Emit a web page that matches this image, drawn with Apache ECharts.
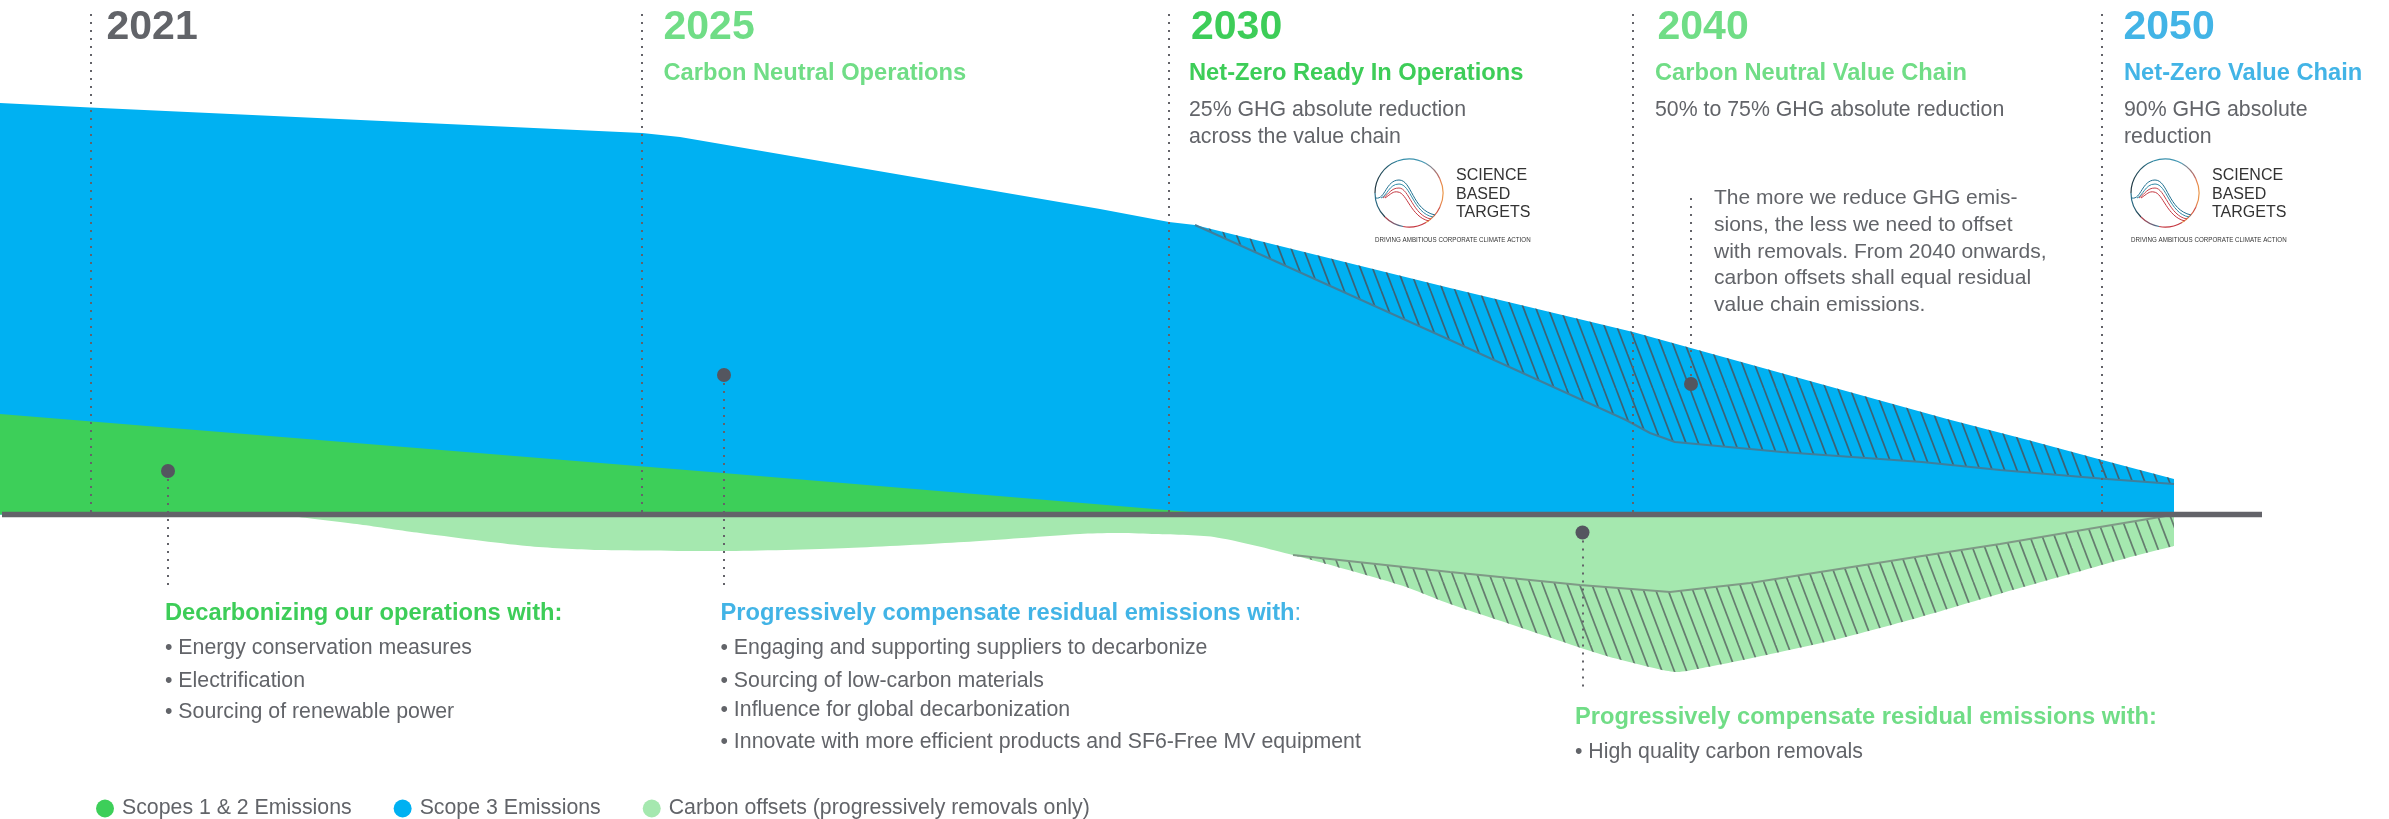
<!DOCTYPE html>
<html><head><meta charset="utf-8">
<style>html,body{margin:0;padding:0;background:#fff}#c{width:2389px;height:819px}</style>
<script src="https://cdn.jsdelivr.net/npm/echarts@6/dist/echarts.min.js"></script>
</head><body><div id="c"></div>
<script>
// Series: [timeline position, level above (+) or below (-) the zero line]
const scope12 = [[0,100.5],[723,41.5],[1220,0]];
const scope3Top = [[0,411.5],[90,407],[642,381.5],[680,377.5],[1100,305.5],[1169,292.5],[1195,289.5],[1450,226.5],[1633,182.5],[1947,95.5],[2028,74.5],[2102,54.5],[2174,35.5]];
const scope3Hatched = [[1195,289.5],[1450,226.5],[1633,182.5],[1947,95.5],[2028,74.5],[2102,54.5],[2174,35.5]];
const scope3Low = [[1195,289.5],[1450,174.5],[1626,94.5],[1650,81.5],[1675,72.5],[1782,62.5],[1922,52.5],[2000,44.5],[2100,36],[2174,30.5]];
const offsetOuter = [[285,0],[299,-2.5],[360,-10],[420,-18.5],[527,-31.5],[598,-35.5],[723,-36.5],[848,-33.5],[964,-27.5],[1080,-19.5],[1115,-18.5],[1152,-19.5],[1214,-22.5],[1293,-40.5],[1400,-70.5],[1450,-89.5],[1513,-110.5],[1603,-140.5],[1660,-155],[1677,-157.5],[1700,-154],[1757,-142.5],[1840,-124],[1922,-102],[2004,-78],[2086,-55],[2127,-43.5],[2174,-31.5]];
const offsetHatched = [[1293,-40.5],[1400,-70.5],[1450,-89.5],[1513,-110.5],[1603,-140.5],[1660,-155],[1677,-157.5],[1700,-154],[1757,-142.5],[1840,-124],[1922,-102],[2004,-78],[2086,-55],[2127,-43.5],[2174,-31.5]];
const offsetInner = [[1293,-40.5],[1450,-57.5],[1580,-70.5],[1670,-77.5],[1750,-68.5],[1922,-41.5],[2000,-29.5],[2100,-12.5],[2160,-2.5],[2174,0]];
const zeroLine = [[2,0],[2262,0]];
const yearMarks = [90.5,642,1169,1633,2102];
const yearMarkTop = 500.5, yearMarkBottom = 2;
const calloutDots = [[168,43.5],[724,139.5],[1582.5,-18],[1691,130.5]];
const calloutEnds = [[168,-73.5],[724,-70.5],[1582.5,-174.5],[1691,322.5]];

const legendNames = ['Scopes 1 & 2 Emissions','Scope 3 Emissions','Carbon offsets (progressively removals only)'];
const GREEN='#3DCD58', BLUE='#42B4E6', LIGHT='#70DD86', GREY='#626469';
const FILL_BLUE='#00B1F2', FILL_GREEN='#3DCF59', FILL_LIGHT='#A5E8AF';

const years = [['2021',GREY,106.5],['2025',LIGHT,663.5],['2030',GREEN,1191],['2040',LIGHT,1657.5],['2050',BLUE,2123.5]];
const milestones = [['Carbon Neutral Operations',LIGHT,663.5],['Net-Zero Ready In Operations',GREEN,1189],['Carbon Neutral Value Chain',LIGHT,1655],['Net-Zero Value Chain',BLUE,2124]];
const bodyLines = [['25% GHG absolute reduction',1189,110],['across the value chain',1189,137],['50% to 75% GHG absolute reduction',1655,110],['90% GHG absolute',2124,110],['reduction',2124,137],
 ['• Energy conservation measures',165,648],['• Electrification',165,681],['• Sourcing of renewable power',165,712],
 ['• Engaging and supporting suppliers to decarbonize',720.5,648],['• Sourcing of low-carbon materials',720.5,681],['• Influence for global decarbonization',720.5,710],['• Innovate with more efficient products and SF6-Free MV equipment',720.5,742],
 ['• High quality carbon removals',1575,752]];
const noteLines = [['The more we reduce GHG emis-',1714,198],['sions, the less we need to offset',1714,225],['with removals. From 2040 onwards,',1714,252],['carbon offsets shall equal residual',1714,278],['value chain emissions.',1714,305]];
const heads = [['Decarbonizing our operations with:',GREEN,165,613],['Progressively compensate residual emissions with',BLUE,720.5,613,':'],['Progressively compensate residual emissions with:',LIGHT,1575,717]];
const logoCentres = [1409,2165];

function hatch(color){
  const W=37,H=97,c=document.createElement('canvas');c.width=W;c.height=H;
  const g=c.getContext('2d');g.strokeStyle=color;g.lineWidth=1.7;
  for(let i=-4;i<7;i++){const x=i*W/3;g.beginPath();g.moveTo(x,0);g.lineTo(x+W,H);g.stroke();}
  return {image:c,repeat:'repeat'};
}
const area=(name,data,fill,z,extra)=>Object.assign({type:'line',name,data,z,symbol:'none',silent:true,
  lineStyle:{width:0},itemStyle:{color:fill},areaStyle:{color:fill,opacity:1}},extra||{});

const FONT='"Liberation Sans", Arial, sans-serif';
const BOLD=23.7, BODY=21.3;
const T=(text,x,y,fill,size,weight)=>({type:'text',x,y,z:50,silent:true,style:{text,fill,font:(weight||'normal')+' '+size+'px '+FONT,verticalAlign:'middle',align:'left'}});
const graphics=[];
years.forEach(r=>graphics.push(T(r[0],r[2],28,r[1],41,'bold')));
milestones.forEach(r=>graphics.push(T(r[0],r[2],73,r[1],BOLD,'bold')));
bodyLines.forEach(r=>graphics.push(T(r[0],r[1],r[2],GREY,BODY)));
noteLines.forEach(r=>graphics.push(T(r[0],r[1],r[2],GREY,21)));
heads.forEach(r=>{
  if(r[4]){
    graphics.push({type:'text',x:r[2],y:r[3],z:50,silent:true,style:{verticalAlign:'middle',align:'left',
      text:'{a|'+r[0]+'}{b|'+r[4]+'}',rich:{a:{fill:r[1],font:'bold '+BOLD+'px '+FONT},b:{fill:r[1],font:'normal '+BOLD+'px '+FONT}}}});
  } else graphics.push(T(r[0],r[2],r[3],r[1],BOLD,'bold'));
});

const ringArcs=[[180,250,'#1c2b33','#2f8aa6'],[250,300,'#2f8aa6','#4a9ab5'],[300,335,'#4a9ab5','#d8604f'],[335,385,'#d8604f','#f3b04b'],[25,60,'#f3b04b','#c4363f'],[60,100,'#c4363f','#c4363f'],[100,135,'#c4363f','#2f7f9f'],[135,180,'#2f7f9f','#1c2b33']];
// logo strands: relative start, control points, peak, control points, end
const strands=[[-33,5,-24,7,-23,-13,-10,-13,3,-13,3,17,26,22,'#1f6f8f'],[-28,5,-22,3,-20,-9,-10,-9,2,-9,4,20,24,24,'#2f8aa6'],[-26,5,-20,1,-18,-5,-10,-5,0,-5,4,23,22,26,'#c4434a'],[-24,5,-18,1,-16,-2,-11,-1,-2,0,2,24,20,28,'#c4363f']];
logoCentres.forEach(cx=>{
  const cy=193;
  ringArcs.forEach(a=>graphics.push({type:'arc',z:50,silent:true,shape:{cx,cy,r:34,startAngle:a[0]*Math.PI/180,endAngle:a[1]*Math.PI/180},
    style:{fill:'none',lineWidth:1.2,stroke:{type:'linear',x:0,y:0,x2:1,y2:0,colorStops:[{offset:0,color:a[2]},{offset:1,color:a[3]}]}}}));
  strands.forEach(s=>{
    [[s[0],s[1],s[2],s[3],s[4],s[5],s[6],s[7]],[s[6],s[7],s[8],s[9],s[10],s[11],s[12],s[13]]].forEach(b=>
      graphics.push({type:'bezierCurve',z:50,silent:true,x:cx,y:cy,shape:{x1:b[0],y1:b[1],cpx1:b[2],cpy1:b[3],cpx2:b[4],cpy2:b[5],x2:b[6],y2:b[7]},style:{fill:'none',stroke:s[14],lineWidth:1}}));
  });
  [['SCIENCE',176],['BASED',195],['TARGETS',213]].forEach(l=>graphics.push(T(l[0],cx+47,l[1],'#333',16)));
  const tag=T('DRIVING AMBITIOUS CORPORATE CLIMATE ACTION',cx-34,240,'#333',7.4);tag.scaleX=0.84;graphics.push(tag);
});

const chart=echarts.init(document.getElementById('c'),null,{renderer:'canvas'});
chart.setOption({
  animation:false,
  grid:{left:0,right:0,top:0,bottom:0},
  xAxis:{type:'value',min:0,max:2389,show:false},
  yAxis:{type:'value',min:-304.5,max:514.5,show:false},
  legend:{data:legendNames.map(name=>({name,icon:'circle'})),left:91,top:793,itemWidth:18,itemHeight:18,itemGap:42,selectedMode:false,
    textStyle:{color:GREY,fontSize:BODY,fontFamily:FONT,padding:[0,0,0,3]}},
  graphic:graphics,
  series:[
    area(legendNames[1],scope3Top,FILL_BLUE,1),
    area('scope3 hatch',scope3Hatched,hatch('rgba(70,85,95,.85)'),2),
    area('scope3 remaining',scope3Low,FILL_BLUE,3,{lineStyle:{width:2,color:'#3f7f9c'}}),
    area(legendNames[2],offsetOuter,FILL_LIGHT,1,{smooth:0.25}),
    area('offset hatch',offsetHatched,hatch('rgba(80,90,90,.75)'),2,{smooth:0.25}),
    area('offset inner',offsetInner,FILL_LIGHT,3,{lineStyle:{width:2,color:'#7f9a86'}}),
    area(legendNames[0],scope12,FILL_GREEN,4),
    {type:'line',name:'year marks',data:[],z:5,silent:true,symbol:'none',
      markLine:{silent:true,symbol:'none',animation:false,label:{show:false},lineStyle:{color:'#636369',width:2,type:[2,6],opacity:1},
        data:yearMarks.map(x=>[{coord:[x,yearMarkTop]},{coord:[x,yearMarkBottom]}]).concat(
          calloutDots.map((d,i)=>[{coord:d},{coord:calloutEnds[i]}]))}},
    {type:'line',name:'zero line',data:zeroLine,z:6,silent:true,symbol:'none',lineStyle:{color:'#636369',width:5.5,cap:'butt'}},
    {type:'scatter',name:'callouts',data:calloutDots,z:7,silent:true,symbolSize:14,itemStyle:{color:'#54565F',opacity:1}}
  ]
});
</script></body></html>
